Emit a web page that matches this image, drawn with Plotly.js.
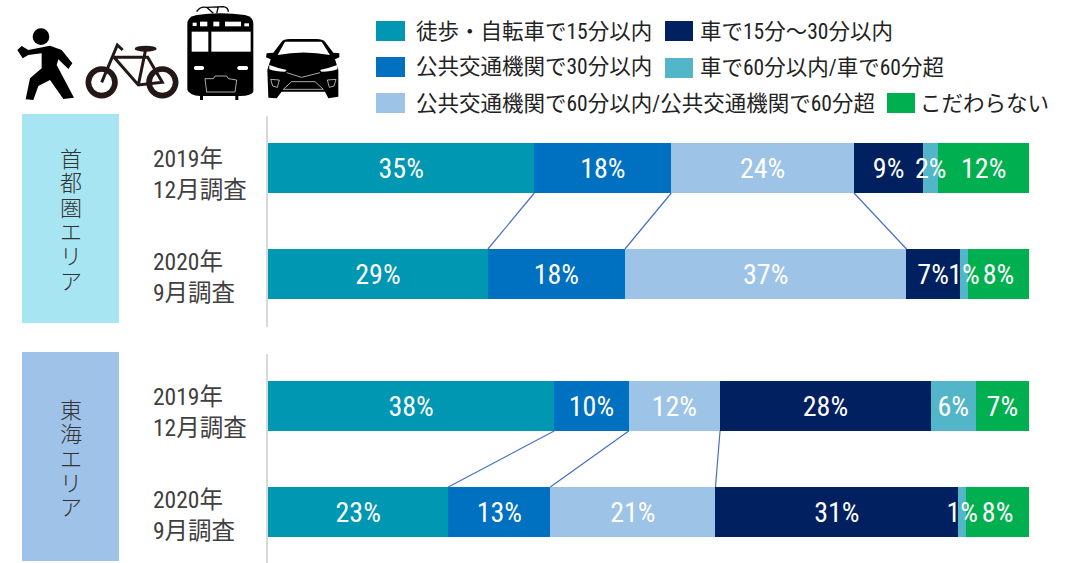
<!DOCTYPE html>
<html><head><meta charset="utf-8">
<script src="https://cdn.plot.ly/plotly-3.0.1.min.js"></script>
<style>html,body{margin:0;padding:0;background:#fff}#c{width:1069px;height:563px}</style>
</head><body><div id="c"></div>
<script>
// ---- data ----
const seriesNames = ['徒歩・自転車で15分以内','公共交通機関で30分以内','公共交通機関で60分以内/公共交通機関で60分超','車で15分～30分以内','車で60分以内/車で60分超','こだわらない'];
const seriesColors = ['#0097B2','#0070C0','#9DC3E6','#002060','#53B5C8','#00B050'];
const rowLabels = ['2019年<br>12月調査','2020年<br>9月調査','2019年<br>12月調査','2020年<br>9月調査'];
const rowPos = [0,106,238,344];
// shares as drawn (row order: 首都圏 2019, 首都圏 2020, 東海 2019, 東海 2020)
const walk    = [35.0,28.9,37.6,23.7];
const transit30 = [18.0,18.0,9.8,13.4];
const transit60 = [24.0,37.0,12.0,21.7];
const car30   = [9.1,7.0,27.7,31.9];
const car60   = [2.0,1.1,5.9,1.05];
const none    = [11.9,8.0,7.0,8.25];
const printed = [
  ['35%','29%','38%','23%'],
  ['18%','18%','10%','13%'],
  ['24%','37%','12%','21%'],
  ['9%','7%','28%','31%'],
  ['2%','1%','6%','1%'],
  ['12%','8%','7%','8%']
];
const regions = ['首都圏エリア','東海エリア'];
const regionColors = ['#A8E5F3','#9FC3E8'];

// ---- layout helpers ----
const W=1069,H=563,L=268,R=40,T=116,B=0;
const px=x=>(x-L)/(W-L-R), py=y=>(H-B-y)/(H-T-B);
const FONT='"Roboto Condensed","Noto Sans CJK JP",sans-serif';
const all=[walk,transit30,transit60,car30,car60,none];
const cum=(r,n)=>all.slice(0,n).reduce((s,a)=>s+a[r],0);
const traces=all.map((v,i)=>({type:'bar',orientation:'h',name:seriesNames[i],x:v,y:rowPos,width:50,
  marker:{color:seriesColors[i],line:{width:0}},hoverinfo:'skip'}));
// value labels sit at each segment's centre and may spill over narrow segments
all.forEach((v,i)=>traces.push({type:'scatter',mode:'text',x:v.map((d,r)=>cum(r,i)+d/2),y:rowPos.map(p=>p+3),text:printed[i],
  textposition:'middle center',cliponaxis:false,textfont:{family:FONT,size:28,color:'#fff'},hoverinfo:'skip'}));

const shapes=[], annotations=[];
// connector lines
[[0,1],[2,3]].forEach(([a,b])=>[1,2,3].forEach(n=>shapes.push({type:'line',xref:'x',yref:'y',
  x0:cum(a,n),y0:rowPos[a]+25,x1:cum(b,n),y1:rowPos[b]-25,line:{color:'#4472C4',width:1.2}})));
// axis rules
[[116,327],[354,563]].forEach(([a,b])=>shapes.push({type:'line',xref:'paper',yref:'paper',x0:px(267),x1:px(267),y0:py(a),y1:py(b),line:{color:'#D9D9D9',width:2}}));
// region blocks, one stacked text each
[[114,323,139],[352,561,390]].forEach(([a,b,s],i)=>{
  shapes.push({type:'rect',xref:'paper',yref:'paper',x0:px(22),x1:px(119),y0:py(a),y1:py(b),fillcolor:regionColors[i],line:{width:0},layer:'below'});
  annotations.push({xref:'paper',yref:'paper',x:px(70.5),y:py(s),text:[...regions[i]].join('<br>'),showarrow:false,xanchor:'center',yanchor:'top',align:'center',
    font:{family:'"Noto Sans CJK JP"',size:22,weight:300,color:'#333'}});
});
// row labels
const rowLabelY=[174,277,412,515];
rowLabels.forEach((t,i)=>annotations.push({xref:'paper',yref:'paper',x:px(151),y:py(rowLabelY[i]),text:t,showarrow:false,xanchor:'left',yanchor:'middle',align:'left',
  font:{family:FONT,size:23.5,color:'#404040'}}));
// legend
const legendPos=[[376,31,405,414],[376,67,405,414],[376,103,405,414],[665,31,693,698],[665,68,693,698],[887,103,915,918]];
legendPos.forEach(([x0,yc,x1,tx],i)=>{
  shapes.push({type:'rect',xref:'paper',yref:'paper',x0:px(x0),x1:px(x1),y0:py(yc-10),y1:py(yc+10),fillcolor:seriesColors[i],line:{width:0}});
  annotations.push({xref:'paper',yref:'paper',x:px(tx),y:py(yc),text:seriesNames[i],showarrow:false,xanchor:'left',yanchor:'middle',
    font:{family:FONT,size:21.5,color:'#222'}});
});
// pictograms
const icons=`<svg xmlns="http://www.w3.org/2000/svg" viewBox="0 0 1080 330" width="1080" height="330">
<circle cx="123" cy="110" r="25"/>
<path d="M52 150L65 138L85 150L150 137L185 150L217 190L205 207L175 178L170 195L222 293L190 297L150 240L115 258L100 300L77 298L90 235L125 205L125 160L85 165L68 175Z"/>
<g fill="none" stroke="#231815"><circle cx="305" cy="247" r="40" stroke-width="17"/><circle cx="487" cy="247" r="40" stroke-width="17"/>
<path d="M305 247L352 135L368 150M342 172L443 172L487 247L415 255L342 172M437 148L415 255" stroke-width="9"/></g>
<ellipse cx="437" cy="146" rx="33" ry="9" fill="#231815"/>
<path d="M590 35Q600 18 620 22L670 20Q685 22 685 35M620 22L640 40M655 20L650 40" fill="none" stroke="#000" stroke-width="4"/>
<path d="M562 72Q562 50 590 45Q660 35 735 45Q760 50 760 72L760 275Q755 287 720 288L600 288Q570 287 562 270Z"/>
<rect x="600" y="280" width="9" height="20"/><rect x="706" y="280" width="9" height="20"/>
<g fill="#fff"><rect x="575" y="95" width="50" height="60"/><rect x="634" y="95" width="118" height="60"/>
<rect x="578" y="68" width="12" height="10"/><rect x="600" y="65" width="22" height="14"/><rect x="640" y="65" width="18" height="14"/><rect x="675" y="65" width="48" height="14"/><rect x="733" y="70" width="14" height="9"/>
<rect x="582" y="198" width="30" height="12" rx="5"/><rect x="712" y="198" width="32" height="12" rx="5"/></g>
<path d="M615 236L640 236L645 228L680 228L685 236L710 240L705 276L620 276Z" fill="none" stroke="#fff" stroke-width="2"/>
<path d="M845 125Q850 117 870 117L950 117Q968 117 975 125L1000 158L1018 160L1018 172L1005 178L1015 210L1015 290L985 295L975 275L845 275L830 295L805 293L802 210L812 178L798 172L800 160L820 158Z"/>
<path d="M833 165L855 125L965 125L990 165Q910 150 833 165Z" fill="#fff"/>
<path d="M808 195Q835 205 860 210L855 215Q825 215 808 208ZM1012 195Q985 205 960 210L965 215Q995 215 1012 208Z" fill="#fff"/>
<path d="M812 238L838 240L832 262L818 258ZM1008 238L982 240L988 262L1002 258ZM850 268L875 245L945 245L970 268ZM860 218L905 232L960 218" fill="none" stroke="#fff" stroke-width="2"/>
</svg>`;
const images=[{source:'data:image/svg+xml;charset=utf-8,'+encodeURIComponent(icons),xref:'paper',yref:'paper',
  x:px(0),y:py(0),sizex:360/(W-L-R),sizey:110/(H-T-B),xanchor:'left',yanchor:'top',sizing:'stretch',layer:'above'}];

const layout={width:W,height:H,margin:{l:L,r:R,t:T,b:B,pad:0},paper_bgcolor:'#fff',plot_bgcolor:'#fff',barmode:'stack',showlegend:false,
  xaxis:{range:[0,100],visible:false,fixedrange:true},
  yaxis:{range:[395,-52],visible:false,fixedrange:true},
  shapes,annotations,images};
Plotly.newPlot('c',traces,layout,{displayModeBar:false,staticPlot:true}).then(gd=>{
  // tighten the vertical region names: the reference's stacked characters are closer than Plotly's fixed line pitch
  gd.querySelectorAll('.annotation-text').forEach(t=>{
    const lines=t.querySelectorAll('tspan.line');
    if(lines.length>=5) lines.forEach((l,k)=>l.setAttribute('dy',(k*24.3)+'px'));
  });
});
</script></body></html>
